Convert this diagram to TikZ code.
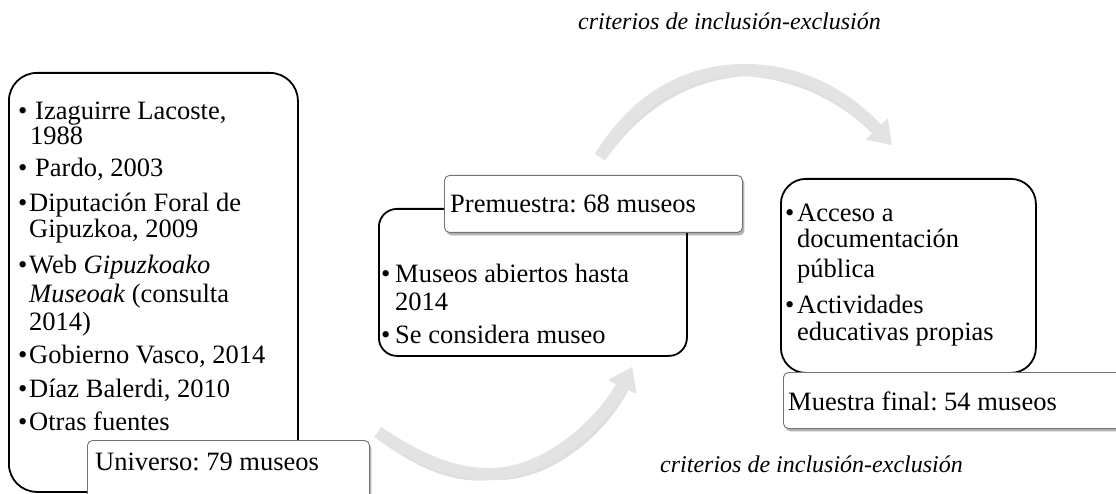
\documentclass[tikz,border=0pt]{standalone}
\usepackage{fontspec}
\setmainfont{Liberation Serif}
\usetikzlibrary{arrows.meta,shadows}
\frenchspacing
\newcommand\fsz{\fontsize{26.5}{28}\selectfont}
\newcommand\fsl{\fontsize{24}{26}\selectfont\itshape}
\tikzset{
  bigbox/.style={draw=black, line width=1.8pt, rounded corners=22pt, fill=white, inner sep=0pt, anchor=north west},
  labbox/.style={draw=black!55, line width=0.9pt, rounded corners=5pt, fill=white, inner sep=0pt, anchor=north west,
    drop shadow={shadow xshift=2pt, shadow yshift=-3pt, opacity=0.3, fill=black}},
  txt/.style={anchor=base west, inner sep=0pt, font=\fsz},
  lab/.style={anchor=base west, inner sep=0pt, font=\fsl},
  flow/.style={line width=12pt, draw=black!11, -{Triangle[length=22pt,width=28pt]}},
  flowsh/.style={line width=12pt, draw=black, -{Triangle[length=22pt,width=28pt]}}
}
\begin{document}
\frenchspacing
\begin{tikzpicture}[x=1pt,y=-1pt]
\clip (0,0) rectangle (1116,494);
\fill[white] (0,0) rectangle (1116,494);

% arrows
\coordinate (b0) at (378,432); \coordinate (b1) at (490,474); \coordinate (b2) at (632,367);
\coordinate (t0) at (600,157); \coordinate (t1) at (745,70); \coordinate (t2) at (892,145);
\begin{scope}[transparency group, opacity=0.13]
  \draw[flowsh, shift={(2,4)}] (b0) .. controls (415,457) and (450,474) .. (b1) .. controls (550,474) and (605,418) .. (b2);
  \draw[flowsh, shift={(2,4)}] (t0) .. controls (635,100) and (685,70) .. (t1) .. controls (805,70) and (850,100) .. (t2);
\end{scope}
\draw[flow] (b0) .. controls (415,457) and (450,474) .. (b1) .. controls (550,474) and (605,418) .. (b2);
\draw[flow] (t0) .. controls (635,100) and (685,70) .. (t1) .. controls (805,70) and (850,100) .. (t2);

% boxes
\node[bigbox, rounded corners=28pt, minimum width=289pt, minimum height=419pt] (src) at (8,72) {};
\node[labbox, minimum width=282pt, minimum height=70pt] (uni) at (87,440) {};
\node[bigbox, rounded corners=18pt, minimum width=308pt, minimum height=147pt] (pre) at (378,208) {};
\node[labbox, minimum width=298pt, minimum height=57pt] (prelab) at (444,175) {};
\node[bigbox, rounded corners=25pt, minimum width=255pt, minimum height=194pt] (fin) at (780,178) {};
\node[labbox, minimum width=340pt, minimum height=56pt] (finlab) at (783,372) {};

% left list
\node[txt] (s1b) at (18,120) {•};
\node[txt] (s1) at (35,120) {Izaguirre Lacoste,};
\node[txt] (s1c) at (30,145) {1988};
\node[txt] (s2b) at (18,177) {•};
\node[txt] (s2) at (35,177) {Pardo, 2003};
\node[txt] (s3b) at (18,212) {•};
\node[txt] (s3) at (29,212) {Diputación Foral de};
\node[txt] (s3c) at (29,238) {Gipuzkoa, 2009};
\node[txt] (s4b) at (18,273) {•};
\node[txt] (s4) at (29,273) {Web \textit{Gipuzkoako}};
\node[txt] (s4c) at (29,302) {\textit{Museoak} (consulta};
\node[txt] (s4d) at (29,330) {2014)};
\node[txt] (s5b) at (18,363) {•};
\node[txt] (s5) at (29,363) {Gobierno Vasco\textit{,} 2014};
\node[txt] (s6b) at (18,397) {•};
\node[txt] (s6) at (29,397) {Díaz Balerdi, 2010};
\node[txt] (s7b) at (18,430) {•};
\node[txt] (s7) at (29,430) {Otras fuentes};
\node[txt] (unit) at (95,470) {Universo: 79 museos};

% middle
\node[txt] (pret) at (450,213) {Premuestra: 68 museos};
\node[txt] (m1b) at (381,283) {•};
\node[txt] (m1) at (395,283) {Museos abiertos hasta};
\node[txt] (m1c) at (395,310) {2014};
\node[txt] (m2b) at (381,343) {•};
\node[txt] (m2) at (395,343) {Se considera museo};

% right
\node[txt] (r1b) at (785,222) {•};
\node[txt] (r1) at (797,222) {Acceso a};
\node[txt] (r1c) at (797,248) {documentación};
\node[txt] (r1d) at (797,277) {pública};
\node[txt] (r2b) at (785,313) {•};
\node[txt] (r2) at (797,313) {Actividades};
\node[txt] (r2c) at (797,340) {educativas propias};
\node[txt] (fint) at (788,410) {Muestra final: 54 museos};

% labels
\node[lab] (crit1) at (578,30) {criterios de inclusión-exclusión};
\node[lab] (crit2) at (660,472) {criterios de inclusión-exclusión};
\end{tikzpicture}
\end{document}
